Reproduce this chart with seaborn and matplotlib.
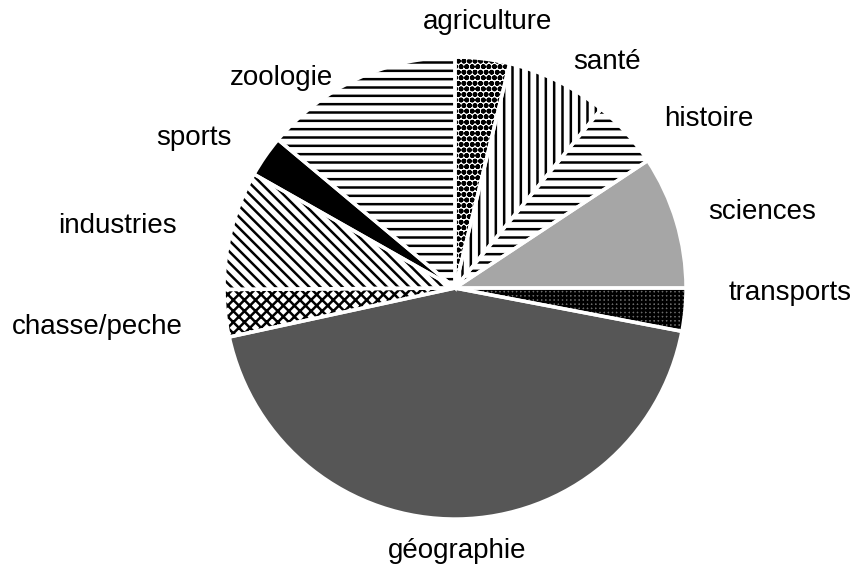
import matplotlib
matplotlib.use("Agg")
import matplotlib.pyplot as plt
import seaborn as sns

# categories clockwise from the top
categories = ["agriculture", "santé", "histoire", "sciences", "transports",
              "géographie", "chasse/peche", "industries", "sports", "zoologie"]
shares = [3.8, 7.1, 4.8, 9.3, 3.0, 43.6, 3.3, 8.3, 2.9, 13.9]

# fill styles (face colour, hatch, hatch colour)
faces = ["white", "white", "white", "#a6a6a6", "#6a6a6a",
         "#565656", "white", "white", "black", "white"]
hatches = ["ooo", "||", "--", "", "++++", "", "xxx", "\\\\\\", "", "--"]
hatch_cols = ["black", "black", "black", "#a6a6a6", "black",
              "#565656", "black", "black", "black", "black"]

# label placement (data units, pie radius = 1)
label_pos = [(0.14, 1.15), (0.66, 0.98), (1.10, 0.73), (1.33, 0.33),
             (1.45, -0.02), (0.01, -1.14), (-1.55, -0.17), (-1.46, 0.27),
             (-1.13, 0.65), (-0.75, 0.91)]

sns.set_theme(style="white")
plt.rcParams['font.family'] = ['Liberation Sans', 'DejaVu Sans']
plt.rcParams['hatch.linewidth'] = 1.8

fig = plt.figure(figsize=(8.62, 5.68), dpi=100)
ax = fig.add_axes([0, 0, 1, 1])

wedges, texts = ax.pie(shares, labels=categories, startangle=90,
                       counterclock=False, colors=faces,
                       wedgeprops=dict(linewidth=0),
                       textprops=dict(fontsize=20, color="black"))
for w, h, hc in zip(wedges, hatches, hatch_cols):
    w.set_hatch(h)
    w.set_edgecolor(hc)

# white separators between slices
ax.pie(shares, startangle=90, counterclock=False,
       colors=["none"] * len(shares),
       wedgeprops=dict(linewidth=2.5, edgecolor="white", fill=False))

for t, (x, y) in zip(texts, label_pos):
    t.set_position((x, y))
    t.set_ha("center")
    t.set_va("center")

ax.set_xlim(-1.970, 1.762)
ax.set_ylim(-1.212, 1.247)
ax.set_aspect("auto")
ax.axis("off")

fig.savefig("out.png", dpi=100)
